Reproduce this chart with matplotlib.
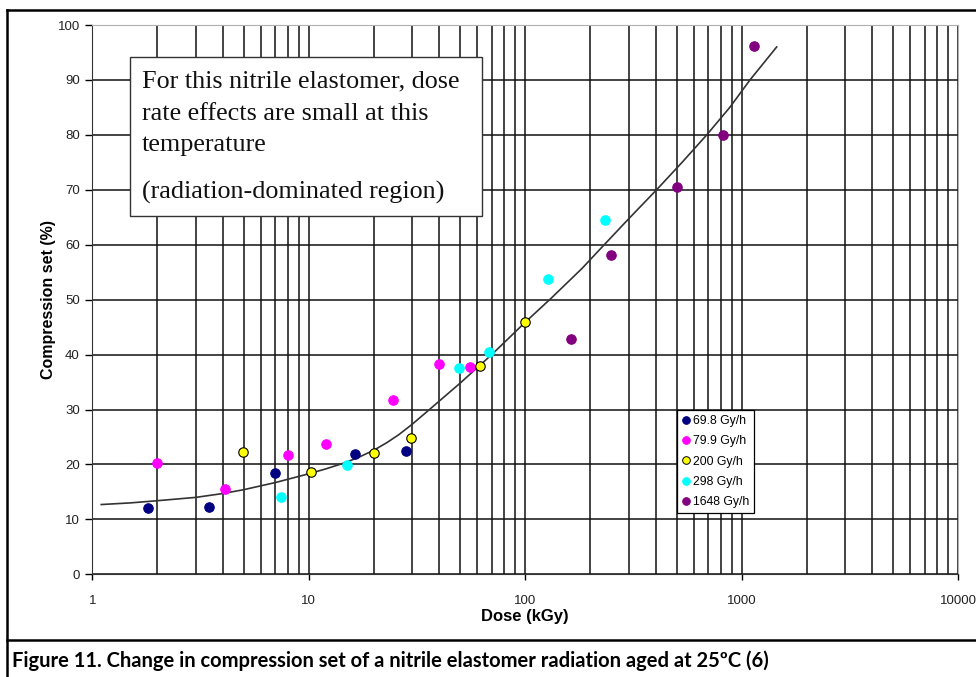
import matplotlib.pyplot as plt
from matplotlib.ticker import LogLocator, FixedLocator, NullFormatter
from matplotlib.patches import Rectangle
from matplotlib.lines import Line2D

# compression set (%) vs dose (kGy) for each dose rate
dose_698 = [1.81, 3.46, 6.98, 16.3, 28.1]
cs_698 = [12.1, 12.25, 18.4, 21.9, 22.4]

dose_799 = [2.0, 4.10, 8.04, 12.0, 24.4, 40.1, 55.5]
cs_799 = [20.3, 15.5, 21.7, 23.8, 31.7, 38.2, 37.8]

dose_200 = [4.98, 10.2, 20.0, 29.6, 61.8, 100.0]
cs_200 = [22.3, 18.6, 22.1, 24.8, 37.9, 45.9]

dose_298 = [7.44, 15.0, 49.3, 68.2, 126.9, 233.5]
cs_298 = [14.0, 19.9, 37.5, 40.5, 53.8, 64.5]

dose_1648 = [162.6, 248, 504, 822, 1142]
cs_1648 = [42.8, 58.1, 70.5, 80.0, 96.2]

# trend curve
trend_dose = [1.1, 1.5, 2, 3, 4, 5, 7, 10, 12, 14.4, 17, 20, 23, 26, 30, 35.6,
              50, 70, 100, 132, 183, 229, 300, 404, 530, 689, 880, 1091, 1449]
trend_cs = [12.7, 13.0, 13.4, 14.0, 14.7, 15.4, 16.7, 18.3, 19.2, 20.2, 21.3,
            22.6, 24.0, 25.4, 27.3, 29.8, 34.8, 40.0, 45.9, 50.3, 55.7, 59.8,
            64.7, 70.0, 75.0, 80.0, 85.0, 90.0, 96.0]

series = [
    ('69.8 Gy/h', dose_698, cs_698, '#000080', '#000080'),
    ('79.9 Gy/h', dose_799, cs_799, '#ff00ff', '#ff00ff'),
    ('200 Gy/h', dose_200, cs_200, '#ffff00', '#000000'),
    ('298 Gy/h', dose_298, cs_298, '#00ffff', '#00ffff'),
    ('1648 Gy/h', dose_1648, cs_1648, '#800080', '#800080'),
]

W, H = 976, 677
fig = plt.figure(figsize=(W / 100, H / 100), dpi=100)
ax = fig.add_axes([92.3 / W, (H - 574.3) / H, 866 / W, 549.3 / H])

ax.set_xscale('log')
ax.set_xlim(1, 10000)
ax.set_ylim(0, 100)

ax.xaxis.set_minor_locator(LogLocator(base=10, subs=range(2, 10)))
ax.xaxis.set_minor_formatter(NullFormatter())
ax.set_xticks([1, 10, 100, 1000, 10000])
ax.set_xticklabels(['1', '10', '100', '1000', '10000'])
ax.yaxis.set_major_locator(FixedLocator(range(0, 101, 10)))

ax.grid(which='both', axis='x', color='#111111', lw=1.1)
ax.grid(which='major', axis='y', color='#111111', lw=1.1)
ax.set_axisbelow(True)

ax.tick_params(axis='x', which='major', direction='out', length=4, width=1,
               pad=11, labelsize=9.5, labelcolor='#222222')
ax.tick_params(axis='x', which='minor', length=0)
ax.tick_params(axis='y', direction='out', length=5, width=1, pad=4,
               labelsize=9.5, labelcolor='#222222')
for lab in ax.get_xticklabels() + ax.get_yticklabels():
    lab.set_family('Liberation Sans')

for side in ['top', 'right']:
    ax.spines[side].set_color('#b0b0b0')
for side in ['left', 'bottom']:
    ax.spines[side].set_color('#333333')

ax.plot(trend_dose, trend_cs, color='#333333', lw=1.2, zorder=3)

for label, d, c, fc, ec in series:
    ax.plot(d, c, 'o', ms=6.8, mfc=fc, mec=ec, mew=0.8, ls='none',
            label=label, zorder=4)

handles = [Line2D([], [], marker='o', ls='none', ms=5.5, mfc=fc, mec=ec, mew=0.7)
           for _, _, _, fc, ec in series]
leg = ax.legend(handles, [s[0] for s in series], loc='upper left',
                bbox_to_anchor=(0.6755, 0.299), borderaxespad=0,
                frameon=True, fancybox=False, edgecolor='#000000',
                framealpha=1, handlelength=0.6, handletextpad=0.3,
                borderpad=0.4, labelspacing=0.68,
                prop={'family': 'Liberation Sans', 'size': 8.8})
leg.get_frame().set_linewidth(0.9)
leg.set_zorder(6)

ax.set_xlabel('Dose (kGy)', family='Liberation Sans', weight='bold',
              fontsize=12, labelpad=1)
ax.set_ylabel('Compression set (%)', family='Liberation Sans', weight='bold',
              fontsize=11.5, labelpad=1)

# annotation box
fig.add_artist(Rectangle((130 / W, 1 - 215.7 / H), (481.7 - 130) / W,
                         (215.7 - 57.3) / H, transform=fig.transFigure,
                         facecolor='white', edgecolor='#333333', lw=1, zorder=5))
note_lines = ['For this nitrile elastomer, dose', 'rate effects are small at this',
              'temperature', '(radiation-dominated region)']
note_baselines = [87.3, 120, 151, 198.3]
for txt, yb in zip(note_lines, note_baselines):
    fig.text(141.7 / W, 1 - yb / H, txt, family='Liberation Serif',
             fontsize=18.8, va='baseline', ha='left', color='#111111', zorder=6)

# page frame and caption
frame = dict(color='black', lw=1.8, transform=fig.transFigure)
fig.add_artist(Line2D([7 / W, 1], [1 - 10 / H, 1 - 10 / H], **frame))
fig.add_artist(Line2D([7 / W, 7 / W], [0, 1 - 10 / H], **frame))
fig.add_artist(Line2D([7 / W, 1], [1 - 640 / H, 1 - 640 / H], **frame))
fig.text(12 / W, 1 - 661 / H,
         'Figure 11. Change in compression set of a nitrile elastomer radiation aged at 25ºC (6)',
         family='Lato', weight='bold', fontsize=14.5, va='center', ha='left')

fig.savefig('out.png', dpi=100)
